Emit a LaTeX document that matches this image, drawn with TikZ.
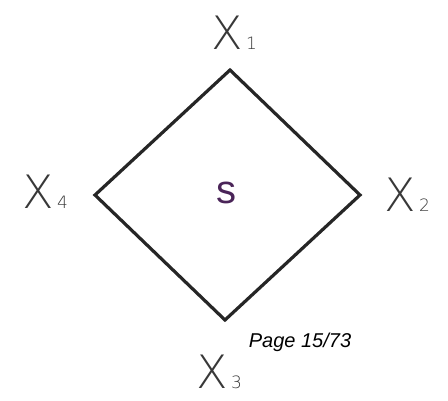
\documentclass[tikz,border=0pt]{standalone}
\usepackage{fontspec}
\setmainfont{Liberation Sans}
\newfontfamily\thinfont{DejaVu Sans ExtraLight}
\definecolor{labgray}{HTML}{383838}
\definecolor{spurple}{HTML}{4A2458}
\begin{document}
\begin{tikzpicture}[x=1pt,y=-1pt,
  varlab/.style={inner sep=0pt,text=labgray,font=\thinfont\fontsize{46}{46}\selectfont},
  sublab/.style={inner sep=0pt,text=labgray,font=\thinfont\fontsize{17}{17}\selectfont},
  edge/.style={line width=3.2pt,draw=black!85,line join=miter}]
\useasboundingbox (0,0) rectangle (448,400);
\coordinate (t) at (230,70);
\coordinate (r) at (360,195);
\coordinate (b) at (225,320);
\coordinate (l) at (95,195);
\draw[edge] (t) -- (r) -- (b) -- (l) -- cycle;
\node[varlab] (x1) at (227,33) {X};
\node[sublab,anchor=base west] (s1) at ([xshift=3pt]x1.base east) {1};
\node[varlab] (x2) at (400,195) {X};
\node[sublab,anchor=base west] (s2) at ([xshift=3pt]x2.base east) {2};
\node[varlab] (x3) at (212,372) {X};
\node[sublab,anchor=base west] (s3) at ([xshift=3pt]x3.base east) {3};
\node[varlab] (x4) at (38,192) {X};
\node[sublab,anchor=base west] (s4) at ([xshift=3pt]x4.base east) {4};
\node[inner sep=0pt,text=spurple,font=\fontsize{40}{40}\selectfont] (s) at (226,193) {s};
\node[inner sep=0pt,font=\itshape\fontsize{20}{20}\selectfont] (pg) at (300,342) {Page 15/73};
\end{tikzpicture}
\end{document}
